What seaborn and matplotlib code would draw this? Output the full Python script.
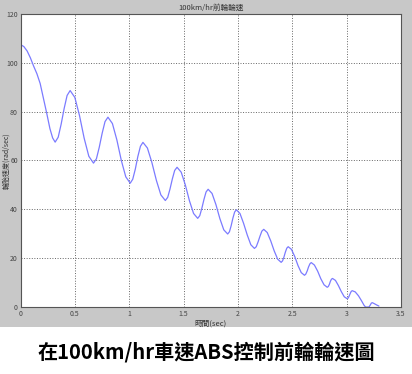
import numpy as np
import pandas as pd
import seaborn as sns
import matplotlib.pyplot as plt

# front wheel speed under ABS control
t = [0.00, 0.03, 0.06, 0.09, 0.12, 0.15, 0.18, 0.21, 0.24, 0.27, 0.295, 0.318,
     0.346, 0.373, 0.401, 0.428, 0.456,
     0.499, 0.542, 0.585, 0.628, 0.671,
     0.698, 0.724, 0.751, 0.777, 0.804,
     0.845, 0.886, 0.927, 0.968, 1.009,
     1.032, 1.056, 1.079, 1.103, 1.126,
     1.167, 1.208, 1.250, 1.291, 1.332,
     1.354, 1.375, 1.397, 1.418, 1.440,
     1.478, 1.516, 1.554, 1.592, 1.630,
     1.649, 1.668, 1.688, 1.707, 1.726,
     1.762, 1.798, 1.834, 1.870, 1.906,
     1.922, 1.938, 1.954, 1.970, 1.986,
     2.019, 2.052, 2.086, 2.119, 2.152,
     2.169, 2.186, 2.204, 2.221, 2.238,
     2.270, 2.302, 2.334, 2.366, 2.398,
     2.411, 2.424, 2.437, 2.450, 2.463,
     2.493, 2.523, 2.553, 2.583, 2.613,
     2.625, 2.638, 2.650, 2.663, 2.675,
     2.704, 2.734, 2.763, 2.793, 2.822,
     2.832, 2.842, 2.851, 2.861, 2.871,
     2.898, 2.925, 2.952, 2.979, 3.006,
     3.015, 3.024, 3.034, 3.043, 3.052,
     3.080, 3.110, 3.140, 3.160, 3.175, 3.206,
     3.218, 3.228, 3.237, 3.255, 3.275, 3.298]
speed = [107.4, 106.6, 104.8, 102.0, 98.6, 95.5, 91.5, 85.5, 79.4, 73.0, 69.2, 67.5,
         69.5, 74.8, 81.3, 86.6, 88.6,
         85.8, 78.4, 69.1, 61.7, 58.9,
         60.7, 65.4, 71.2, 75.9, 77.7,
         75.1, 68.4, 60.0, 53.3, 50.7,
         52.3, 56.5, 61.6, 65.8, 67.4,
         65.1, 59.2, 51.8, 45.9, 43.6,
         44.9, 48.3, 52.5, 55.9, 57.2,
         55.2, 50.0, 43.5, 38.3, 36.3,
         37.4, 40.4, 44.1, 47.1, 48.2,
         46.5, 41.9, 36.2, 31.6, 29.9,
         30.8, 33.3, 36.4, 38.9, 39.8,
         38.3, 34.3, 29.5, 25.5, 24.0,
         24.7, 26.7, 29.1, 31.1, 31.8,
         30.5, 27.1, 23.0, 19.6, 18.3,
         18.9, 20.5, 22.5, 24.1, 24.7,
         23.6, 20.7, 17.0, 14.1, 13.0,
         13.5, 14.8, 16.4, 17.7, 18.2,
         17.2, 14.7, 11.6, 9.1, 8.1,
         8.4, 9.3, 10.5, 11.4, 11.7,
         10.9, 8.8, 6.3, 4.2, 3.4,
         3.7, 4.5, 5.6, 6.4, 6.7,
         6.2, 4.6, 2.4, 0.8, 0.0, 0.0,
         0.8, 1.6, 1.8, 1.4, 0.9, 0.4]

xticks = [0, 0.5, 1, 1.5, 2, 2.5, 3, 3.5]
xticklabels = ['0', '0.5', '1', '1.5', '2', '2.5', '3', '3.5']
yticks = [0, 20, 40, 60, 80, 100, 120]

df = pd.DataFrame({'t': t, 'speed': speed})

sns.set_theme(style="white")
plt.rcParams['font.family'] = ['Noto Sans CJK TC', 'DejaVu Sans']

# gray matlab-style figure, white strip at the bottom for the caption
fig = plt.figure(figsize=(4.12, 3.74), dpi=100, facecolor='#c8c8c8')
fig.patches.append(plt.Rectangle((0, 0), 1, 0.126, transform=fig.transFigure,
                                 facecolor='white', edgecolor='none'))

ax = fig.add_axes([0.05, 0.179, 0.923, 0.784])
ax.set_zorder(2)
sns.lineplot(data=df, x='t', y='speed', ax=ax, color='#7b7bff', linewidth=0.9)

ax.set_xlim(0, 3.5)
ax.set_ylim(0, 120)
ax.set_xticks(xticks)
ax.set_xticklabels(xticklabels)
ax.set_yticks(yticks)
ax.grid(True, linestyle=':', color='#666666', linewidth=0.7)
ax.tick_params(labelsize=5, colors='#444444', length=2, pad=2, direction='in')
for s in ax.spines.values():
    s.set_color('#555555')
    s.set_linewidth(0.8)

ax.set_title('100km/hr前輪輪速', fontsize=5.5, pad=3, color='#333333')
ax.set_xlabel('時間(sec)', fontsize=5.5, labelpad=1, color='#333333')
ax.set_ylabel('輪胎速度(rad/sec)', fontsize=5, color='#333333')
ax.yaxis.set_label_coords(-0.028, 0.5)

fig.text(0.5, 0.058, '在100km/hr車速ABS控制前輪輪速圖', ha='center', va='center',
         fontsize=14.5, fontweight='bold', color='black')

fig.savefig('out.png', dpi=100)
